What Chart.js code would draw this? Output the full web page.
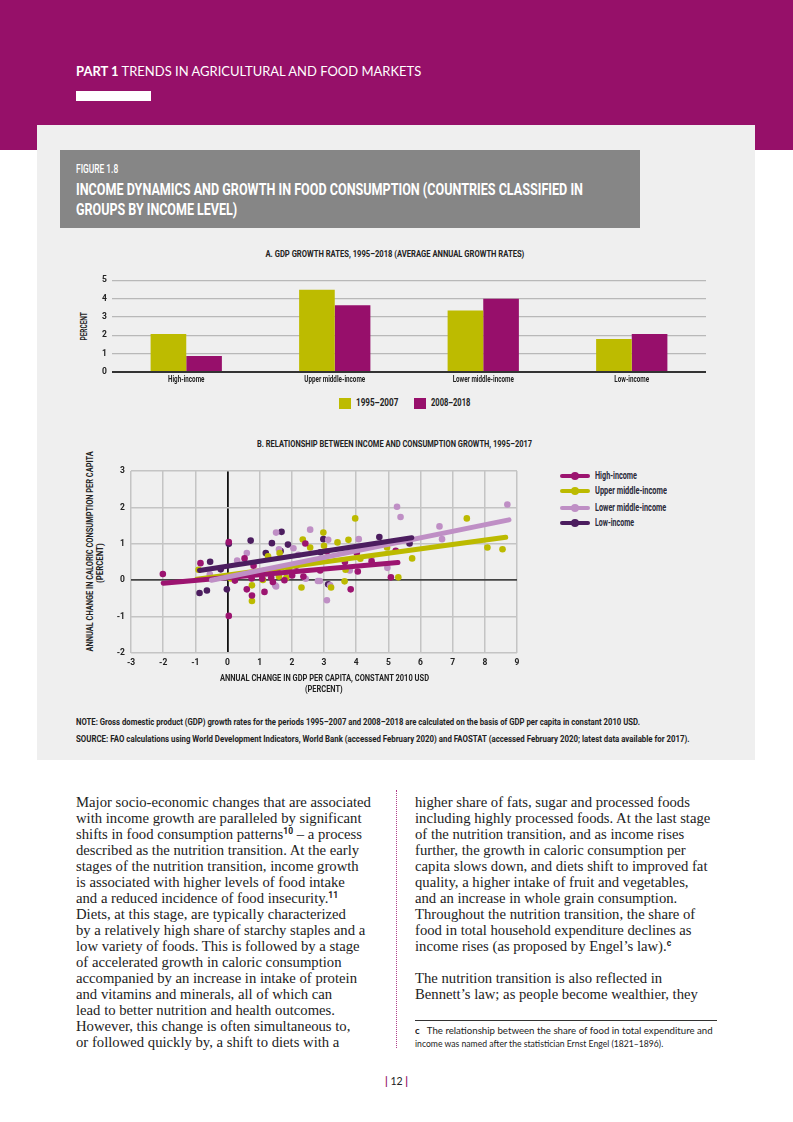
<!DOCTYPE html>
<html>
<head>
<meta charset="utf-8">
<script src="https://cdn.jsdelivr.net/npm/chart.js@4/dist/chart.umd.min.js"></script>
<style>
  body { margin: 0; width: 793px; height: 1122px; position: relative; background: #fff; overflow: hidden; }
  .abs { position: absolute; }
  .cond { font-family: Roboto, "Liberation Sans", sans-serif; font-weight: 700; }
  .fit { display: inline-block; white-space: nowrap; transform-origin: left center; }
  .ctr { transform-origin: center center; }
  .body-text { font-family: "Liberation Serif", serif; font-size: 14.7px; line-height: 16px; color: #222; white-space: nowrap; }
  .body-text sup { font-size: 8.5px; font-weight: bold; font-family: Roboto, sans-serif; line-height: 0; vertical-align: 5px; }
  .leg { position: absolute; left: 560px; width: 30px; height: 4px; border-radius: 2px; }
  .leg i { position: absolute; left: 11px; top: -2px; width: 8px; height: 8px; border-radius: 50%; background: inherit; }
  .legtxt { position: absolute; left: 595px; font-size: 11px; color: #2a2a3a; }
</style>
</head>
<body>
<!-- page header -->
<div class="abs" style="left:0;top:0;width:793px;height:150px;background:#961069"></div>
<div class="abs" style="left:37px;top:125px;width:718px;height:635px;background:#efefef"></div>
<div class="abs" style="left:76px;top:64px;font-family:Lato,sans-serif;font-size:12.5px;color:#fff">
  <span class="fit" data-w="345"><b>PART 1</b> TRENDS IN AGRICULTURAL AND FOOD MARKETS</span></div>
<div class="abs" style="left:76px;top:91px;width:75px;height:10px;background:#fff"></div>

<!-- figure title box -->
<div class="abs" style="left:60px;top:150px;width:580px;height:78px;background:#868686"></div>
<div class="abs cond" style="left:76px;top:162px;font-size:13px;line-height:14px;color:#fff;font-weight:500">
  <span class="fit" data-w="42">FIGURE 1.8</span></div>
<div class="abs cond" style="left:76px;top:180px;font-size:17px;line-height:18px;color:#fff">
  <span class="fit" data-w="507">INCOME DYNAMICS AND GROWTH IN FOOD CONSUMPTION (COUNTRIES CLASSIFIED IN</span></div>
<div class="abs cond" style="left:76px;top:200px;font-size:17px;line-height:18px;color:#fff">
  <span class="fit" data-w="161">GROUPS BY INCOME LEVEL)</span></div>

<!-- panel A -->
<div class="abs cond" style="left:0;width:790px;top:249px;text-align:center;font-size:9px;color:#222">
  <span class="fit ctr" data-w="259">A. GDP GROWTH RATES, 1995–2018 (AVERAGE ANNUAL GROWTH RATES)</span></div>
<div class="abs cond" style="left:54px;top:320px;width:60px;height:12px;line-height:12px;text-align:center;font-size:9px;color:#222;transform:rotate(-90deg)">
  <span class="fit ctr" data-w="28">PERCENT</span></div>
<div class="abs" style="left:70px;top:270px;width:650px;height:122px"><canvas id="barChart"></canvas></div>
<div class="abs" style="left:339px;top:398px;width:12px;height:11px;background:#bdbb00"></div>
<div class="abs cond" style="left:356px;top:396px;font-size:11px;color:#222"><span class="fit" data-w="42">1995–2007</span></div>
<div class="abs" style="left:414px;top:398px;width:12px;height:11px;background:#970f6b"></div>
<div class="abs cond" style="left:431px;top:396px;font-size:11px;color:#222"><span class="fit" data-w="39">2008–2018</span></div>

<!-- panel B -->
<div class="abs cond" style="left:0;width:790px;top:439px;text-align:center;font-size:9px;color:#222">
  <span class="fit ctr" data-w="275">B. RELATIONSHIP BETWEEN INCOME AND CONSUMPTION GROWTH, 1995–2017</span></div>
<div class="abs cond" style="left:-15px;top:553px;width:220px;height:20px;font-size:9px;line-height:10px;color:#222;text-align:center;transform:rotate(-90deg)">
  <div><span class="fit ctr" data-w="200">ANNUAL CHANGE IN CALORIC CONSUMPTION PER CAPITA</span></div>
  <div><span class="fit ctr" data-w="40">(PERCENT)</span></div></div>
<div class="abs" style="left:100px;top:460px;width:430px;height:217px"><canvas id="scatterChart"></canvas></div>
<div class="abs cond" style="left:174px;width:300px;top:673px;font-size:9px;line-height:11px;color:#222;text-align:center">
  <div><span class="fit ctr" data-w="209">ANNUAL CHANGE IN GDP PER CAPITA, CONSTANT 2010 USD</span></div>
  <div><span class="fit ctr" data-w="38">(PERCENT)</span></div></div>

<div class="leg" style="top:474px;background:#9c1470"><i></i></div>
<div class="legtxt cond" style="top:469px"><span class="fit" data-w="42">High-income</span></div>
<div class="leg" style="top:489px;background:#bcba00"><i></i></div>
<div class="legtxt cond" style="top:484px"><span class="fit" data-w="72">Upper middle-income</span></div>
<div class="leg" style="top:506px;background:#bf8fc5"><i></i></div>
<div class="legtxt cond" style="top:501px"><span class="fit" data-w="71">Lower middle-income</span></div>
<div class="leg" style="top:521px;background:#4c1d5f"><i></i></div>
<div class="legtxt cond" style="top:516px"><span class="fit" data-w="39">Low-income</span></div>

<div class="abs cond" style="left:76px;top:713px;font-size:9.5px;line-height:17px;color:#222">
  <span class="fit" data-w="564">NOTE: Gross domestic product (GDP) growth rates for the periods 1995–2007 and 2008–2018 are calculated on the basis of GDP per capita in constant 2010 USD.</span><br>
  <span class="fit" data-w="614">SOURCE: FAO calculations using World Development Indicators, World Bank (accessed February 2020) and FAOSTAT (accessed February 2020; latest data available for 2017).</span></div>

<!-- body text -->
<div class="abs body-text" style="left:76px;top:794px">
Major socio-economic changes that are associated<br>
with income growth are paralleled by significant<br>
shifts in food consumption patterns<sup>10</sup> – a process<br>
described as the nutrition transition. At the early<br>
stages of the nutrition transition, income growth<br>
is associated with higher levels of food intake<br>
and a reduced incidence of food insecurity.<sup>11</sup><br>
Diets, at this stage, are typically characterized<br>
by a relatively high share of starchy staples and a<br>
low variety of foods. This is followed by a stage<br>
of accelerated growth in caloric consumption<br>
accompanied by an increase in intake of protein<br>
and vitamins and minerals, all of which can<br>
lead to better nutrition and health outcomes.<br>
However, this change is often simultaneous to,<br>
or followed quickly by, a shift to diets with a
</div>
<div class="abs" style="left:396px;top:790px;height:258px;border-left:1px dotted #b0408a"></div>
<div class="abs body-text" style="left:415px;top:794px">
higher share of fats, sugar and processed foods<br>
including highly processed foods. At the last stage<br>
of the nutrition transition, and as income rises<br>
further, the growth in caloric consumption per<br>
capita slows down, and diets shift to improved fat<br>
quality, a higher intake of fruit and vegetables,<br>
and an increase in whole grain consumption.<br>
Throughout the nutrition transition, the share of<br>
food in total household expenditure declines as<br>
income rises (as proposed by Engel’s law).<sup>c</sup><br>
<br>
The nutrition transition is also reflected in<br>
Bennett’s law; as people become wealthier, they
</div>
<div class="abs" style="left:415px;top:1020px;width:302px;height:1px;background:#333"></div>
<div class="abs" style="left:415px;top:1024px;font-family:Lato,sans-serif;font-size:9.5px;line-height:13px;color:#222">
  <span class="fit" data-w="298"><b>c</b>&nbsp;&nbsp; The relationship between the share of food in total expenditure and</span><br>
  <span class="fit" data-w="248">income was named after the statistician Ernst Engel (1821–1896).</span></div>
<div class="abs" style="left:0;width:793px;top:1075px;text-align:center;font-family:Lato,sans-serif;font-size:10.5px;color:#222">
  <span style="color:#961069;font-weight:bold">|</span>&nbsp;12&nbsp;<span style="color:#961069;font-weight:bold">|</span></div>

<script>
// Panel A data
const incomeGroups = ['High-income', 'Upper middle-income', 'Lower middle-income', 'Low-income'];
const gdp1995to2007 = [2.07, 4.48, 3.34, 1.80];
const gdp2008to2018 = [0.87, 3.63, 3.98, 2.07];

// Panel B data: [gdp change, caloric change]
const highIncomePts = [[-2.01,0.17],[-0.84,0.47],[0.04,1.05],[0.04,-0.98],[0.53,0.6],[0.81,0.4],[0.23,-0.01],[0.6,-0.25],[0.76,-0.42],[1.15,-0.32],[1.08,0.04],[1.36,0.07],[1.41,-0.05],[1.77,0.0],[2.01,0.13],[2.14,0.4],[2.36,0.1],[2.42,1.01],[2.88,0.27],[3.09,0.79],[3.65,0.5],[3.83,-0.25],[4.02,0.75],[4.05,0.24],[4.48,0.52],[5.08,0.08],[5.23,0.81],[1.55,0.25],[0.75,0.05]];
const upperMiddlePts = [[-0.9,0.29],[0.76,-0.14],[0.76,-0.57],[1.1,0.01],[1.26,0.66],[1.6,0.1],[1.62,0.75],[1.83,0.07],[2.3,-0.2],[2.34,1.12],[2.57,0.9],[2.98,1.31],[3.0,0.95],[3.22,-0.2],[3.42,1.04],[3.64,-0.03],[3.67,0.29],[3.76,1.11],[3.97,1.7],[4.13,0.59],[4.96,0.9],[5.31,0.08],[5.74,0.6],[7.44,1.7],[8.08,0.9],[8.55,0.85],[0.1,0.05],[1.9,0.3]];
const lowerMiddlePts = [[-0.55,0.16],[0.3,0.54],[0.6,0.75],[1.48,-0.14],[1.51,1.31],[1.51,-0.17],[2.05,0.88],[2.43,0.04],[2.57,1.39],[2.81,-0.02],[2.87,-0.02],[3.09,-0.55],[3.13,1.11],[3.19,-0.14],[3.8,0.27],[4.08,1.13],[4.47,0.63],[4.97,0.34],[5.27,2.02],[5.38,1.74],[6.59,1.48],[6.67,1.13],[8.7,2.08],[1.6,0.85],[2.2,0.7]];
const lowIncomePts = [[-0.87,-0.35],[-0.64,-0.28],[-0.54,0.51],[-0.21,0.3],[-0.02,-0.25],[0.04,1.0],[0.72,1.09],[1.19,0.75],[1.38,1.02],[1.68,1.33],[1.88,0.98],[2.89,0.77],[2.98,1.13],[3.13,-0.11],[4.72,1.19],[5.66,1.01],[1.65,0.8]];

// fitted lines (start, end)
const highIncomeFit = [[-2.0,-0.08],[5.3,0.49]];
const upperMiddleFit = [[-0.95,0.03],[8.65,1.18]];
const lowerMiddleFit = [[-0.5,0.0],[8.75,1.66]];
const lowIncomeFit = [[-0.87,0.27],[5.73,1.17]];

// squeeze html labels to the widths of the condensed original font
document.querySelectorAll('.fit').forEach(el => {
  const w = el.offsetWidth;
  if (w) el.style.transform = 'scaleX(' + (+el.dataset.w / w) + ')';
});

const FONT = 'Roboto, "Liberation Sans", sans-serif';
const toXY = arr => arr.map(p => ({ x: p[0], y: p[1] }));

// category labels drawn narrow (the original uses a condensed face)
const narrowXLabels = {
  id: 'narrowXLabels',
  afterDraw(chart) {
    const s = chart.scales.x, ctx = chart.ctx;
    ctx.save();
    ctx.font = 'bold 9.5px ' + FONT;
    ctx.fillStyle = '#222';
    ctx.textAlign = 'center';
    ctx.textBaseline = 'top';
    chart.data.labels.forEach((lab, i) => {
      ctx.save();
      ctx.translate(s.getPixelForTick(i), s.top + 3);
      ctx.scale(0.66, 1);
      ctx.fillText(lab, 0, 0);
      ctx.restore();
    });
    ctx.restore();
  }
};

new Chart(document.getElementById('barChart'), {
  type: 'bar',
  data: {
    labels: incomeGroups,
    datasets: [
      { label: '1995–2007', data: gdp1995to2007, backgroundColor: '#bdbb00' },
      { label: '2008–2018', data: gdp2008to2018, backgroundColor: '#970f6b' }
    ]
  },
  plugins: [narrowXLabels],
  options: {
    responsive: true,
    maintainAspectRatio: false,
    animation: false,
    layout: { padding: { top: 9, right: 14, left: 0, bottom: 0 } },
    plugins: { legend: { display: false }, tooltip: { enabled: false } },
    datasets: { bar: { categoryPercentage: 0.48, barPercentage: 1.0 } },
    scales: {
      x: {
        grid: { display: false },
        border: { display: false },
        ticks: { display: false },
        afterFit: s => { s.height = 20; }
      },
      y: {
        min: 0, max: 5,
        ticks: { stepSize: 1, color: '#222', padding: 5, font: { family: FONT, size: 8.5, weight: 'bold' } },
        grid: {
          drawTicks: false,
          color: c => c.tick.value === 0 ? '#333' : '#b8b8b8',
          lineWidth: c => c.tick.value === 0 ? 2 : 1.2
        },
        border: { display: false },
        afterFit: s => { s.width = 42; }
      }
    }
  }
});

const pointSet = (data, color) => ({
  type: 'scatter', data: toXY(data), backgroundColor: color, borderWidth: 0,
  pointRadius: 3.3, order: 10
});
const fitLine = (data, color, order) => ({
  type: 'line', data: toXY(data), borderColor: color, borderWidth: 5,
  borderCapStyle: 'round', pointRadius: 0, order: order
});

new Chart(document.getElementById('scatterChart'), {
  type: 'scatter',
  data: {
    datasets: [
      pointSet(highIncomePts, '#9c1470'),
      pointSet(upperMiddlePts, '#bcba00'),
      pointSet(lowerMiddlePts, '#bf8fc5'),
      pointSet(lowIncomePts, '#4c1d5f'),
      fitLine(upperMiddleFit, '#bcba00', 4),
      fitLine(highIncomeFit, '#9c1470', 3),
      fitLine(lowerMiddleFit, '#bf8fc5', 2),
      fitLine(lowIncomeFit, '#4c1d5f', 1)
    ]
  },
  options: {
    responsive: true,
    maintainAspectRatio: false,
    animation: false,
    layout: { padding: { top: 10, right: 13, left: 0, bottom: 0 } },
    plugins: { legend: { display: false }, tooltip: { enabled: false } },
    scales: {
      x: {
        type: 'linear', min: -3, max: 9,
        ticks: { stepSize: 1, color: '#222', padding: 5, font: { family: FONT, size: 8.5, weight: 'bold' } },
        grid: {
          drawTicks: false,
          color: c => c.tick.value === 0 ? '#111' : '#c4c4c4',
          lineWidth: c => c.tick.value === 0 ? 1.8 : 1.5
        },
        border: { display: false },
        afterFit: s => { s.height = 24; }
      },
      y: {
        min: -2, max: 3,
        ticks: { stepSize: 1, color: '#222', padding: 6, font: { family: FONT, size: 8.5, weight: 'bold' } },
        grid: {
          drawTicks: false,
          color: c => c.tick.value === 0 ? '#444' : '#c4c4c4',
          lineWidth: c => c.tick.value === 0 ? 1.8 : 1.5
        },
        border: { display: false },
        afterFit: s => { s.width = 31; }
      }
    }
  }
});
</script>
</body>
</html>
